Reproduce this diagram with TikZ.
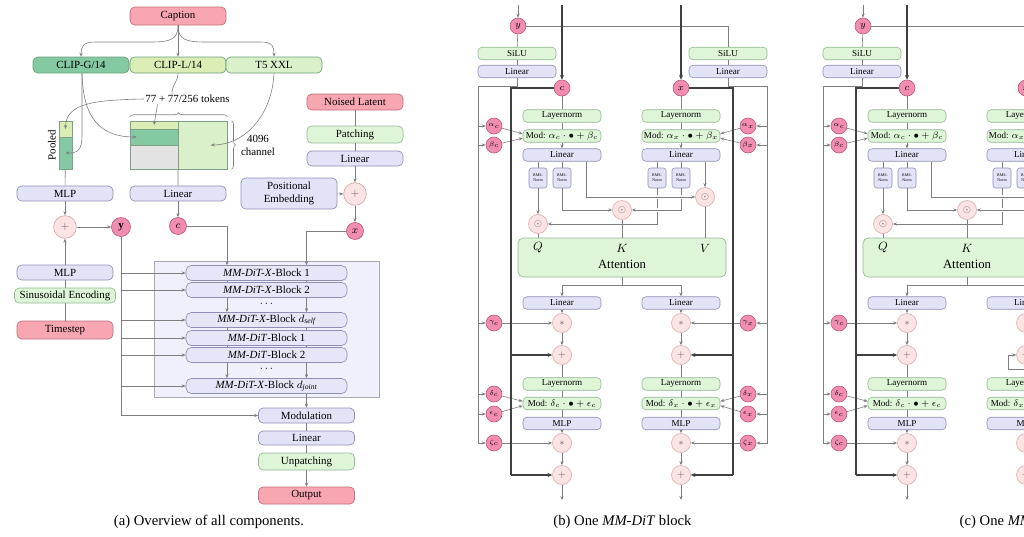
\documentclass[tikz,border=0pt]{standalone}
\usepackage{fontspec}
\setmainfont{Liberation Serif}
\usetikzlibrary{arrows.meta,calc,decorations.pathreplacing}
\definecolor{pinkF}{HTML}{F7A6B2}\definecolor{pinkD}{HTML}{C46F7D}
\definecolor{varF}{HTML}{F28DB2}\definecolor{varD}{HTML}{C0557F}
\definecolor{opF}{HTML}{FDE4E4}\definecolor{opD}{HTML}{D9A9A9}\definecolor{opT}{HTML}{7A6060}
\definecolor{lavF}{HTML}{E3E3F8}\definecolor{lavD}{HTML}{8F8FB5}
\definecolor{grnF}{HTML}{DFF5D8}\definecolor{grnD}{HTML}{93B893}
\definecolor{encG}{HTML}{84C9A2}\definecolor{encL}{HTML}{D9EDB4}\definecolor{encT}{HTML}{DAF0CB}\definecolor{encD}{HTML}{6E9E7E}
\definecolor{segD}{HTML}{7F9F8A}\definecolor{grayF}{HTML}{E3E3E3}
\definecolor{blkF}{HTML}{E6E6F8}\definecolor{panelF}{HTML}{F0F0FC}\definecolor{panelD}{HTML}{A8A8B0}
\definecolor{lineC}{HTML}{7F7F7F}\definecolor{resC}{HTML}{404040}
\newcommand\ftA{\fontsize{8.2}{9.75}\selectfont}
\newcommand\ftB{\fontsize{6.8}{7.5}\selectfont}
\newcommand\ftRms{\fontsize{3}{3.5}\selectfont}
\newcommand\ftPar{\fontsize{4.8}{5.5}\selectfont}
\newcommand\ftCap{\fontsize{11}{13}\selectfont}
\newcommand\ftAtt{\fontsize{9.5}{11}\selectfont}
\tikzset{
 ln/.style={draw=lineC, line width=0.45pt},
 arr/.style={ln, -{Stealth[length=3pt,width=2.4pt]}},
 res/.style={draw=resC, line width=0.85pt},
 resarr/.style={res, -{Stealth[length=3.5pt,width=3pt]}},
 gap/.style={preaction={draw=white, line width=2.6pt, arrows=-, shorten <=2pt, shorten >=3pt}},
 box/.style={rounded corners=3.5pt, line width=0.5pt, inner sep=0pt, align=center, font=\ftA, minimum width=72pt, minimum height=12pt},
 pinkbox/.style={box, draw=pinkD, fill=pinkF},
 lavbox/.style={box, draw=lavD, fill=lavF},
 grnbox/.style={box, draw=grnD, fill=grnF},
 encbox/.style={box, draw=encD},
 seg/.style={draw=segD, line width=0.4pt, inner sep=0pt},
 vcirc/.style={circle, draw=varD, fill=varF, line width=0.5pt, inner sep=0pt, minimum size=12.75pt, font=\ftA},
 opcirc/.style={circle, draw=opD, fill=opF, line width=0.5pt, inner sep=0pt, minimum size=17pt, font=\ftA, text=opT},
 blk/.style={rounded corners=4pt, draw=lavD, fill=blkF, line width=0.5pt, minimum width=120.75pt, minimum height=11.25pt, inner sep=0pt, font=\ftA},
 panelbg/.style={draw=panelD, fill=panelF, line width=0.5pt, minimum width=168.75pt, minimum height=102pt, inner sep=0pt},
 dotsn/.style={inner sep=0pt, font=\ftA},
 sbox/.style={rounded corners=3pt, line width=0.45pt, inner sep=0pt, font=\ftB, minimum width=58.5pt, minimum height=9.4pt},
 sgrn/.style={sbox, draw=grnD, fill=grnF},
 slav/.style={sbox, draw=lavD, fill=lavF},
 rms/.style={rounded corners=2pt, draw=lavD, fill=lavF, line width=0.4pt, inner sep=0pt, minimum width=13.5pt, minimum height=15pt, font=\ftRms, align=center},
 svar/.style={circle, draw=varD, fill=varF, line width=0.45pt, inner sep=0pt, minimum size=12pt, font=\ftPar},
 sop/.style={circle, draw=opD, fill=opF, line width=0.45pt, inner sep=0pt, minimum size=14.25pt, font=\ftB, text=opT},
 att/.style={rounded corners=4pt, draw=grnD, fill=grnF, line width=0.5pt, minimum width=156pt, minimum height=29.25pt, inner sep=0pt},
 lbl/.style={inner sep=0pt},
}
\newcommand{\mmblock}[1]{%
\coordinate (#1yin) at (518,5);
\coordinate (#1cin) at (562,5);
\coordinate (#1xin) at (681,5);
\coordinate (#1busL) at (478,86);
\coordinate (#1busR) at (767,86);
\coordinate (#1resL) at (511,88);
\coordinate (#1resR) at (733,88);
\coordinate (#1sp) at (622,285);
\coordinate (#1outc) at (562,500);
\coordinate (#1outx) at (681,500);
\node[svar,font=\ftB] (#1y) at (518,26) {$y$};
\node[svar,font=\ftB] (#1c) at (562,88) {$c$};
\node[svar,font=\ftB] (#1x) at (681,88) {$x$};
\node[sgrn] (#1silc) at (517,53.5) {SiLU};
\node[slav] (#1linc) at (517,71.5) {Linear};
\node[sgrn] (#1silx) at (728,53.5) {SiLU};
\node[slav] (#1linx) at (728,71.5) {Linear};
\node[svar] (#1ac) at (494,126) {$\alpha_c$};
\node[svar] (#1bc) at (494,145) {$\beta_c$};
\node[svar] (#1gc) at (494,323) {$\gamma_c$};
\node[svar] (#1dc) at (494,394) {$\delta_c$};
\node[svar] (#1ec) at (494,414) {$\epsilon_c$};
\node[svar] (#1zc) at (494,443) {$\zeta_c$};
\node[svar] (#1ax) at (748,126) {$\alpha_x$};
\node[svar] (#1bx) at (748,145) {$\beta_x$};
\node[svar] (#1gx) at (748,323) {$\gamma_x$};
\node[svar] (#1dx) at (748,394) {$\delta_x$};
\node[svar] (#1ex) at (748,414) {$\epsilon_x$};
\node[svar] (#1zx) at (748,443) {$\zeta_x$};
\node[sgrn] (#1lnc) at (562,116) {Layernorm};
\node[sgrn] (#1modc) at (562,136) {Mod: $\alpha_c\cdot\bullet+\beta_c$};
\node[slav] (#1lqc) at (562,155) {Linear};
\node[sgrn] (#1lnx) at (681,116) {Layernorm};
\node[sgrn] (#1modx) at (681,136) {Mod: $\alpha_x\cdot\bullet+\beta_x$};
\node[slav] (#1lqx) at (681,155) {Linear};
\node[rms] (#1r1) at (538,178) {RMS-\\Norm};
\node[rms] (#1r2) at (562,178) {RMS-\\Norm};
\node[rms] (#1r3) at (657,178) {RMS-\\Norm};
\node[rms] (#1r4) at (681,178) {RMS-\\Norm};
\node[sop] (#1q) at (538,224) {$\odot$};
\node[sop] (#1k) at (622,210) {$\odot$};
\node[sop] (#1v) at (705,197) {$\odot$};
\node[att] (#1att) at (622,257.5) {};
\node[lbl,font=\ftAtt] (#1Ql) at (538,248) {$Q$};
\node[lbl,font=\ftAtt] (#1Kl) at (622,248) {$K$};
\node[lbl,font=\ftAtt] (#1Vl) at (705,248) {$V$};
\node[lbl,font=\ftAtt] (#1Al) at (622,264) {Attention};
\node[slav] (#1loc) at (562,303) {Linear};
\node[slav] (#1lox) at (681,303) {Linear};
\node[sop] (#1m1c) at (562,323) {$*$};
\node[sop] (#1m1x) at (681,323) {$*$};
\node[sop] (#1p1c) at (562,355) {$+$};
\node[sop] (#1p1x) at (681,355) {$+$};
\node[sgrn] (#1ln2c) at (562,384) {Layernorm};
\node[sgrn] (#1ln2x) at (681,384) {Layernorm};
\node[sgrn] (#1mod2c) at (562,403.5) {Mod: $\delta_c\cdot\bullet+\epsilon_c$};
\node[sgrn] (#1mod2x) at (681,403.5) {Mod: $\delta_x\cdot\bullet+\epsilon_x$};
\node[slav] (#1mlpc) at (562,423.5) {MLP};
\node[slav] (#1mlpx) at (681,423.5) {MLP};
\node[sop] (#1m2c) at (562,443) {$*$};
\node[sop] (#1m2x) at (681,443) {$*$};
\node[sop] (#1p2c) at (562,475) {$+$};
\node[sop] (#1p2x) at (681,475) {$+$};
% conditioning
\draw[ln] (#1y) -| (#1silx);
\draw[arr] (#1yin) -- (#1y);
\draw[resarr] (#1cin) -- (#1c);
\draw[resarr] (#1xin) -- (#1x);
\draw[ln] (#1y) -- (#1silc);
\draw[ln] (#1silc) -- (#1linc);
\draw[ln] (#1silx) -- (#1linx);
\draw[arr] (#1linc.south) |- (#1busL) |- (#1zc);
\draw[arr] (#1linx.south) |- (#1busR) |- (#1zx);
\foreach \n in {ac,bc,gc,dc,ec} {\draw[arr] (#1\n -| #1busL) -- (#1\n);}
\foreach \n in {ax,bx,gx,dx,ex} {\draw[arr] (#1\n -| #1busR) -- (#1\n);}
% streams
\draw[ln] (#1c) -- (#1lnc); \draw[ln] (#1lnc) -- (#1modc); \draw[arr] (#1modc) -- (#1lqc);
\draw[ln] (#1x) -- (#1lnx); \draw[ln] (#1lnx) -- (#1modx); \draw[arr] (#1modx) -- (#1lqx);
\draw[arr] (#1ac) -- ($(#1modc.west)+(0,-2.2)$);
\draw[arr] (#1bc) -- ($(#1modc.west)+(0,2.2)$);
\draw[arr] (#1ax) -- ($(#1modx.east)+(0,-2.2)$);
\draw[arr] (#1bx) -- ($(#1modx.east)+(0,2.2)$);
\draw[ln] (#1r1 |- #1lqc.south) -- (#1r1);
\draw[ln] (#1r2 |- #1lqc.south) -- (#1r2);
\draw[ln] (#1r3 |- #1lqx.south) -- (#1r3);
\draw[ln] (#1r4 |- #1lqx.south) -- (#1r4);
\draw[arr] (#1v |- #1lqx.south) -- (#1v);
\draw[arr] (#1r1) -- (#1q);
\draw[arr] (#1r3) |- (#1q);
\draw[arr] (#1r2) |- (#1k);
\draw[arr,gap] (#1r4) |- (#1k);
\draw[arr,gap] ($(#1lqc.south)+(24,0)$) |- (#1v);
\draw[ln] (#1q) -- (#1q |- #1att.north);
\draw[ln] (#1k) -- (#1k |- #1att.north);
\draw[ln] (#1v) -- (#1v |- #1att.north);
\draw[ln] (#1att.south) -- (#1sp);
\draw[arr] (#1sp) -| (#1loc);
\draw[arr] (#1sp) -| (#1lox);
\draw[arr] (#1loc) -- (#1m1c); \draw[arr] (#1gc) -- (#1m1c); \draw[arr] (#1m1c) -- (#1p1c);
\draw[arr] (#1lox) -- (#1m1x); \draw[arr] (#1gx) -- (#1m1x); \draw[arr] (#1m1x) -- (#1p1x);
\draw[ln] (#1p1c) -- (#1ln2c); \draw[ln] (#1ln2c) -- (#1mod2c); \draw[ln] (#1mod2c) -- (#1mlpc);
\draw[ln] (#1p1x) -- (#1ln2x); \draw[ln] (#1ln2x) -- (#1mod2x); \draw[ln] (#1mod2x) -- (#1mlpx);
\draw[arr] (#1dc) -- ($(#1mod2c.west)+(0,-2.2)$);
\draw[arr] (#1ec) -- ($(#1mod2c.west)+(0,2.2)$);
\draw[arr] (#1dx) -- ($(#1mod2x.east)+(0,-2.2)$);
\draw[arr] (#1ex) -- ($(#1mod2x.east)+(0,2.2)$);
\draw[arr] (#1mlpc) -- (#1m2c); \draw[arr] (#1zc) -- (#1m2c); \draw[arr] (#1m2c) -- (#1p2c); \draw[arr] (#1p2c) -- (#1outc);
\draw[arr] (#1mlpx) -- (#1m2x); \draw[arr] (#1zx) -- (#1m2x); \draw[arr] (#1m2x) -- (#1p2x); \draw[arr] (#1p2x) -- (#1outx);
% residuals
\draw[res] (#1c) -- (#1resL) -- (#1resL |- #1p2c);
\draw[resarr] (#1resL |- #1p1c) -- (#1p1c);
\draw[resarr] (#1resL |- #1p2c) -- (#1p2c);
\draw[res] (#1x) -- (#1resR) -- (#1resR |- #1p2x);
\draw[resarr] (#1resR |- #1p1x) -- (#1p1x);
\draw[resarr] (#1resR |- #1p2x) -- (#1p2x);
}
\begin{document}
\begin{tikzpicture}[x=0.75pt,y=-0.75pt]
\useasboundingbox (0,0) rectangle (1024,536);
\clip (0,0) rectangle (1024,536);
% ---------------- panel (a) ----------------
\node[pinkbox, minimum height=13.5pt] (caption) at (178,16) {Caption};
\node[encbox, fill=encG] (clipg) at (81,65) {CLIP-G/14};
\node[encbox, fill=encL] (clipl) at (178,65) {CLIP-L/14};
\node[encbox, fill=encT] (t5) at (274,65) {T5 XXL};
\draw[arr] (caption.south) -- (clipl.north);
\draw[arr] (caption.south) .. controls (178,40) and (170,42) .. (150,42) -- (95,42) .. controls (83,42) and (81,47) .. (clipg.north);
\draw[arr] (caption.south) .. controls (178,40) and (186,42) .. (206,42) -- (261,42) .. controls (273,42) and (274,47) .. (t5.north);
% pooled vector
\node[seg, fill=encL, minimum width=9.75pt, minimum height=12pt] (ptop) at (65.5,129) {};
\node[seg, fill=encG, minimum width=9.75pt, minimum height=24pt] (pbot) at (65.5,153) {};
\node[rotate=90, font=\ftA] (pooled) at (52,145) {Pooled};
% context matrix
\node[seg, fill=encL, minimum width=36pt, minimum height=6pt] (ctop) at (154,125) {};
\node[seg, fill=encG, minimum width=36pt, minimum height=12pt] (cdark) at (154,137) {};
\node[seg, fill=grayF, minimum width=36pt, minimum height=18pt] (cgray) at (154,157) {};
\node[seg, fill=encT, minimum width=36.75pt, minimum height=36pt] (cright) at (202.75,145) {};
\draw[ln, decorate, decoration={brace, amplitude=3pt}] ([yshift=3pt]ctop.north west) -- ([yshift=3pt]cright.north east);
\draw[ln, decorate, decoration={brace, amplitude=3pt}] ([xshift=3pt]cright.north east) -- ([xshift=3pt]cright.south east);
\node[font=\ftA, fill=white, inner sep=1pt] (tok) at (187.5,99) {77 + 77/256 tokens};
\node[font=\ftA, align=center] (chan) at (258,145.5) {4096\\channel};
\draw[ln] (clipl.south) .. controls (178,82) and (172,84) .. ($(tok.north)+(-15.5,0)$);
\draw[arr] (tok.west) .. controls (95,100) and (66,103) .. (ptop.center);
\draw[arr] ($(tok.south)+(-30,0)$) -- (ctop.center);
\draw[arr] ($(clipg.south)+(1,0)$) .. controls (83,118) and (100,137) .. ($(cdark.west)+(7,0)$);
\draw[arr] ($(clipg.south)+(1,0)$) -- (82,135) .. controls (82,150) and (78,153) .. (pbot.center);
\draw[arr] (t5.south) .. controls (272,115) and (245,145) .. ($(cright.center)+(8,0)$);
% left column
\node[lavbox, minimum height=11.25pt] (mlp1) at (65,193.5) {MLP};
\node[lavbox, minimum height=11.25pt] (lin1) at (178,193.5) {Linear};
\node[opcirc] (plus1) at (65,227) {$+$};
\node[vcirc, minimum size=14.25pt] (ycirc) at (121,227) {\textbf{y}};
\node[vcirc] (ccirc) at (178,226) {$c$};
\node[lavbox, minimum height=11.25pt] (mlp2) at (65,272.5) {MLP};
\node[grnbox, minimum width=75.75pt, minimum height=11.25pt] (sinus) at (65,295.5) {Sinusoidal Encoding};
\node[pinkbox, minimum height=13.5pt] (timestep) at (65,330) {Timestep};
\draw[ln] (pbot) -- (mlp1);
\draw[ln] (cright.south west) -- (lin1.north);
\draw[arr] (lin1) -- (ccirc);
\draw[arr] (mlp1) -- (plus1);
\draw[arr] (mlp2) -- (plus1);
\draw[ln] (sinus) -- (mlp2);
\draw[ln] (timestep) -- (sinus);
\draw[arr] (plus1) -- (ycirc);
% latent input
\node[pinkbox] (nl) at (355,102) {Noised Latent};
\node[grnbox, minimum height=12.75pt] (patch) at (355,134.5) {Patching};
\node[lavbox, minimum height=11.25pt] (lin2) at (355,158.5) {Linear};
\node[lavbox, minimum height=23.25pt] (posemb) at (289,193.5) {Positional\\Embedding};
\node[opcirc] (plus2) at (355,194) {$+$};
\node[vcirc] (xcirc) at (355,231) {$x$};
\draw[ln] (nl) -- (patch);
\draw[ln] (patch) -- (lin2);
\draw[arr] (lin2) -- (plus2);
\draw[arr] (posemb) -- (plus2);
\draw[arr] (plus2) -- (xcirc);
% block stack
\node[panelbg] (bigpanel) at (266.5,329) {};
\node[blk] (b1) at (266.5,273) {\textit{MM-DiT-X}-Block 1};
\node[blk] (b2) at (266.5,290) {\textit{MM-DiT-X}-Block 2};
\node[dotsn] (dots1) at (266.5,304) {$\cdots$};
\node[blk] (b3) at (266.5,320) {\textit{MM-DiT-X}-Block $d_{\mathit{self}}$};
\node[blk] (b4) at (266.5,338) {\textit{MM-DiT}-Block 1};
\node[blk] (b5) at (266.5,355) {\textit{MM-DiT}-Block 2};
\node[dotsn] (dots2) at (266.5,369) {$\cdots$};
\node[blk] (b6) at (266.5,386) {\textit{MM-DiT-X}-Block $d_{\mathit{joint}}$};
\node[lavbox, minimum height=11.25pt] (modul) at (306.5,415.5) {Modulation};
\node[lavbox, minimum height=10.5pt] (lin3) at (306.5,438) {Linear};
\node[grnbox, minimum height=12.75pt] (unpatch) at (306.5,461.5) {Unpatching};
\node[pinkbox, minimum height=12.75pt] (output) at (306.5,495.5) {Output};
\coordinate (ccol) at (227,226);
\coordinate (xcol) at (306.5,231);
\draw[arr] (ccirc) -- (ccol) -- (ccol |- b1.north);
\draw[ln] (ccol |- b1.south) -- (ccol |- b2.north);
\draw[arr] (ccol |- b2.south) -- (ccol |- b3.north);
\draw[ln] (ccol |- b3.south) -- (ccol |- b4.north);
\draw[ln] (ccol |- b4.south) -- (ccol |- b5.north);
\draw[arr] (ccol |- b5.south) -- (ccol |- b6.north);
\draw[arr] (xcirc) -- (xcol) -- (xcol |- b1.north);
\draw[ln] (xcol |- b1.south) -- (xcol |- b2.north);
\draw[arr] (xcol |- b2.south) -- (xcol |- b3.north);
\draw[ln] (xcol |- b3.south) -- (xcol |- b4.north);
\draw[ln] (xcol |- b4.south) -- (xcol |- b5.north);
\draw[arr] (xcol |- b5.south) -- (xcol |- b6.north);
\draw[arr] (xcol |- b6.south) -- (modul.north);
\draw[arr] (ycirc) |- (modul.west);
\foreach \b in {b1,b2,b3,b4,b5,b6} {\draw[arr] (\b.west -| ycirc) -- (\b.west);}
\draw[ln] (modul) -- (lin3);
\draw[ln] (lin3) -- (unpatch);
\draw[arr] (unpatch) -- (output);
\node[font=\ftCap] (capa) at (209,522) {(a) Overview of all components.};
% ---------------- panel (b) ----------------
\mmblock{P}
\node[font=\ftCap] (capb) at (622.5,522) {(b) One \textit{MM-DiT} block};
% ---------------- panel (c) ----------------
\begin{scope}[xshift=258.75pt]
\mmblock{Q}
\end{scope}
\coordinate (Qxres) at (1035,369);
\coordinate (Qxcor) at (1008.5,369);
\draw[arr] (Qxres) -- (Qxcor) |- (Qp1x);
\node[font=\ftCap, anchor=west] (capc) at (955,522) {(c) One \textit{MM-DiT-X} block};
\end{tikzpicture}
\end{document}
